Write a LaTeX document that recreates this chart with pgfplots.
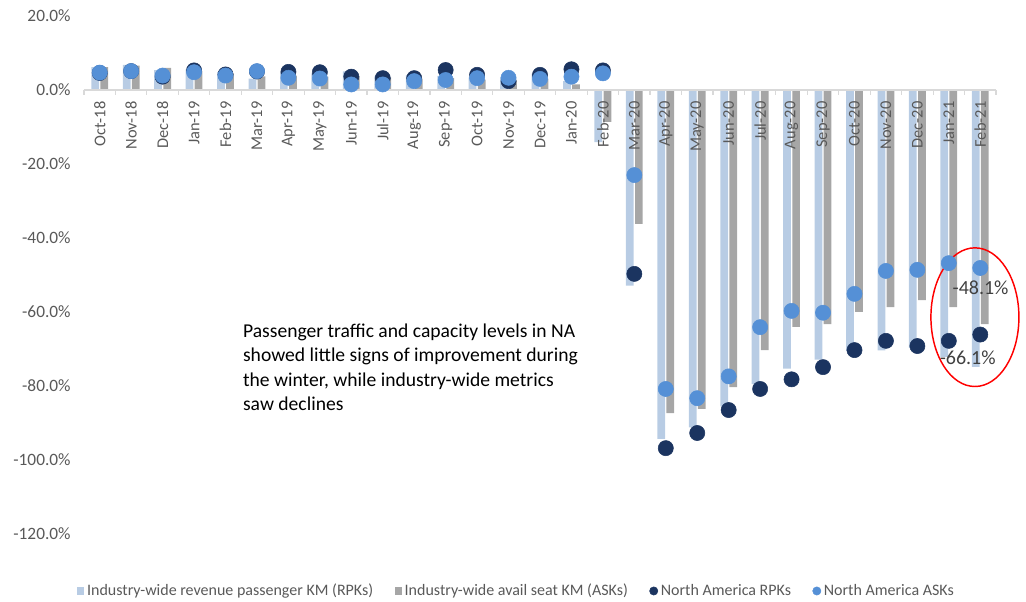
\documentclass[border=0pt]{standalone}
\usepackage{pgfplots}
\usepackage{pgfplotstable}
\pgfplotsset{compat=1.18}
\usepackage{fontspec}
\setmainfont{Carlito}
\definecolor{rpkbar}{HTML}{B8CCE4}
\definecolor{askbar}{HTML}{A6A6A6}
\definecolor{narpk}{HTML}{1B3460}
\definecolor{naask}{HTML}{5590D6}
\definecolor{tickgray}{HTML}{595959}
\definecolor{axisgray}{HTML}{D9D9D9}
\definecolor{lblgray}{HTML}{404040}

\pgfplotstableread{
i irpk iask narpk naask
0 6.2 6.2 4.6 4.7
1 6.8 6.6 5.1 5.1
2 5.4 6.0 3.6 3.9
3 5.6 5.2 5.3 4.8
4 4.8 4.5 4.2 3.9
5 3.1 3.7 5.0 5.1
6 4.6 3.9 4.9 3.3
7 4.5 3.6 4.8 3.1
8 5.0 3.8 3.6 1.5
9 3.7 3.4 3.2 1.5
10 4.0 3.0 3.2 2.4
11 3.8 3.2 5.4 2.7
12 3.4 2.8 4.1 3.2
13 3.4 2.6 2.4 3.3
14 4.4 3.1 4.1 3.0
15 2.4 1.5 5.6 3.6
16 -14.1 -8.6 5.3 4.5
17 -52.9 -36.2 -49.7 -23.0
18 -94.3 -87.3 -96.8 -80.8
19 -91.2 -86.2 -92.7 -83.3
20 -85.5 -80.3 -86.5 -77.4
21 -79.5 -70.3 -80.8 -64.1
22 -75.3 -64.0 -78.2 -59.7
23 -72.9 -63.3 -74.9 -60.2
24 -70.5 -60.0 -70.3 -55.1
25 -70.4 -58.7 -67.8 -48.9
26 -69.7 -56.8 -69.2 -48.6
27 -72.1 -58.7 -67.8 -46.8
28 -74.8 -63.3 -66.1 -48.1
}\data

\begin{document}
\begin{tikzpicture}
\useasboundingbox (-63pt,-51pt) rectangle (706.5pt,400.5pt);
\begin{axis}[
  scale only axis, width=684pt, height=388.5pt,
  xmin=-0.5, xmax=28.5, ymin=-120, ymax=20,
  clip=false, axis on top,
  axis x line*=middle, axis y line*=left,
  x axis line style={draw=axisgray, line width=0.9pt},
  y axis line style={draw=none},
  xtick={0,...,28},
  xticklabels={Oct-18,Nov-18,Dec-18,Jan-19,Feb-19,Mar-19,Apr-19,May-19,Jun-19,Jul-19,Aug-19,Sep-19,Oct-19,Nov-19,Dec-19,Jan-20,Feb-20,Mar-20,Apr-20,May-20,Jun-20,Jul-20,Aug-20,Sep-20,Oct-20,Nov-20,Dec-20,Jan-21,Feb-21},
  minor xtick={-0.5,0.5,...,28.5},
  major tick length=0pt,
  minor tick length=3.75pt,
  tick align=outside,
  minor tick style={draw=axisgray, line width=0.9pt},
  ytick={-120,-100,-80,-60,-40,-20,0,20},
  yticklabels={-120.0\%,-100.0\%,-80.0\%,-60.0\%,-40.0\%,-20.0\%,0.0\%,20.0\%},
  x tick label style={yshift=-6.5pt, rotate=90, anchor=east, font=\fontsize{12.3}{13}\selectfont, text=tickgray, inner sep=2pt},
  y tick label style={font=\fontsize{13}{14}\selectfont, text=tickgray, xshift=-6.5pt},
  legend style={at={(0.4745,-0.110)}, anchor=center, draw=none, fill=none,
    legend columns=4, font=\fontsize{12}{13}\selectfont, text=tickgray,
    /tikz/every even column/.append style={column sep=14pt},
    /tikz/every odd column/.append style={column sep=0pt}},
  legend cell align=left,
]
\addplot[ybar, bar width=5.8pt, bar shift=-3.4pt, fill=rpkbar, draw=none,
  legend image code/.code={\fill[rpkbar] (0pt,-2.8pt) rectangle (5.6pt,2.8pt);}]
  table[x=i,y=irpk] {\data};
\addlegendentry{Industry-wide revenue passenger KM (RPKs)}
\addplot[ybar, bar width=5.8pt, bar shift=3.4pt, fill=askbar, draw=none,
  legend image code/.code={\fill[askbar] (0pt,-2.8pt) rectangle (5.6pt,2.8pt);}]
  table[x=i,y=iask] {\data};
\addlegendentry{Industry-wide avail seat KM (ASKs)}
\addplot[only marks, mark=*, mark size=5.7pt, mark options={fill=narpk, draw=narpk},
  legend image code/.code={\fill[narpk] (3pt,0pt) circle (3.1pt);}]
  table[x=i,y=narpk] {\data};
\addlegendentry{North America RPKs}
\addplot[only marks, mark=*, mark size=5.7pt, mark options={fill=naask, draw=naask},
  legend image code/.code={\fill[naask] (3pt,0pt) circle (3.1pt);}]
  table[x=i,y=naask] {\data};
\addlegendentry{North America ASKs}

\node[font=\fontsize{15}{16}\selectfont, text=lblgray] at (axis cs:28.01,-53.5) {-48.1\%};
\node[font=\fontsize{15}{16}\selectfont, text=lblgray] at (axis cs:27.6,-72.4) {-66.1\%};
\draw[red, line width=1.1pt] (axis cs:27.83,-61.4) ellipse [x radius=33pt, y radius=52pt];
\node[anchor=north west, align=left, inner sep=0pt, font=\fontsize{14.7}{18.2}\selectfont]
  at (axis cs:4.55,-63.2) {Passenger traffic and capacity levels in NA\\showed little signs of improvement during\\the winter, while industry-wide metrics\\saw declines};
\end{axis}
\end{tikzpicture}
\end{document}
